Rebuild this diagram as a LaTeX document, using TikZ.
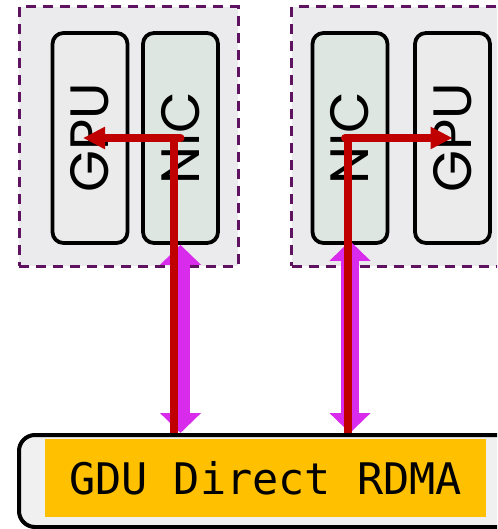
\documentclass[tikz,border=0pt]{standalone}
\usepackage{fontspec}
\setmainfont{Poppins}
\setmonofont{DejaVu Sans Mono}
\usetikzlibrary{arrows.meta,positioning}
\definecolor{hostgray}{RGB}{235,235,237}
\definecolor{hostpurple}{RGB}{94,18,96}
\definecolor{gpugray}{RGB}{235,235,235}
\definecolor{nicgreen}{RGB}{222,230,226}
\definecolor{linkred}{RGB}{192,0,0}
\definecolor{linkmagenta}{RGB}{217,43,235}
\definecolor{rdmaorange}{RGB}{255,192,0}
\definecolor{rdmagray}{RGB}{240,240,240}

\begin{document}
\begin{tikzpicture}[x=1pt, y=-1pt,
	host/.style={draw=hostpurple, fill=hostgray, line width=3pt, dash pattern=on 10pt off 7pt, minimum width=219pt, minimum height=259pt, inner sep=0pt},
	card/.style={draw=black, line width=3.8pt, rounded corners=11pt, minimum width=75pt, minimum height=210pt, inner sep=0pt, font=\fontsize{54}{54}\selectfont},
	gpu/.style={card, fill=gpugray},
	nic/.style={card, fill=nicgreen},
	bus/.style={draw=black, fill=rdmagray, line width=4pt, rounded corners=16pt, minimum width=505pt, minimum height=92pt},
	redline/.style={linkred, line width=8pt},
	magline/.style={linkmagenta, line width=18pt, {Triangle[width=40pt,length=20pt]}-{Triangle[width=40pt,length=20pt]}},
	>=Triangle]
	% Rahmen
	\useasboundingbox (0,0) rectangle (497,529);
	\clip (0,0) rectangle (497,529);
	% Rechner
	\node[host] (hostL) at (128.5,136.5) {};
	\node[host] (hostR) at (401,136.5) {};
	\node[gpu] (gpuL) at (90,138) {\rotatebox{90}{GPU}};
	\node[nic] (nicL) at (180.5,138) {\rotatebox{90}{NIC}};
	\node[nic] (nicR) at (350,138) {\rotatebox{90}{NIC}};
	\node[gpu] (gpuR) at (452.5,138) {\rotatebox{90}{GPU}};
	% RDMA Leiste
	\node[bus] (bus) at (271.5,481) {};
	\node[fill=rdmaorange, minimum width=441pt, minimum height=78pt, inner sep=0pt, font=\ttfamily\fontsize{43.5}{43.5}\selectfont] (rdma) at (265.5,478) {GDU Direct RDMA};
	% Verbindungen
	\draw[magline] (nicL.south) -- (bus.north -| nicL.south);
	\draw[magline] ([yshift=4pt]nicR.south) -- (bus.north -| nicR.south);
	\draw[redline] ([xshift=-7pt]bus.north -| nicL) -- ([xshift=-7pt]nicL.center);
	\draw[redline, line cap=round, -{Triangle[width=21pt,length=22pt]}] (nicL.center) -- ([xshift=-7pt]gpuL.center);
	\draw[redline] ([xshift=-2pt]bus.north -| nicR) -- ([xshift=-2pt]nicR.center);
	\draw[redline, line cap=round, -{Triangle[width=21pt,length=22pt]}] ([xshift=-5pt]nicR.center) -- (gpuR.center);
\end{tikzpicture}
\end{document}
